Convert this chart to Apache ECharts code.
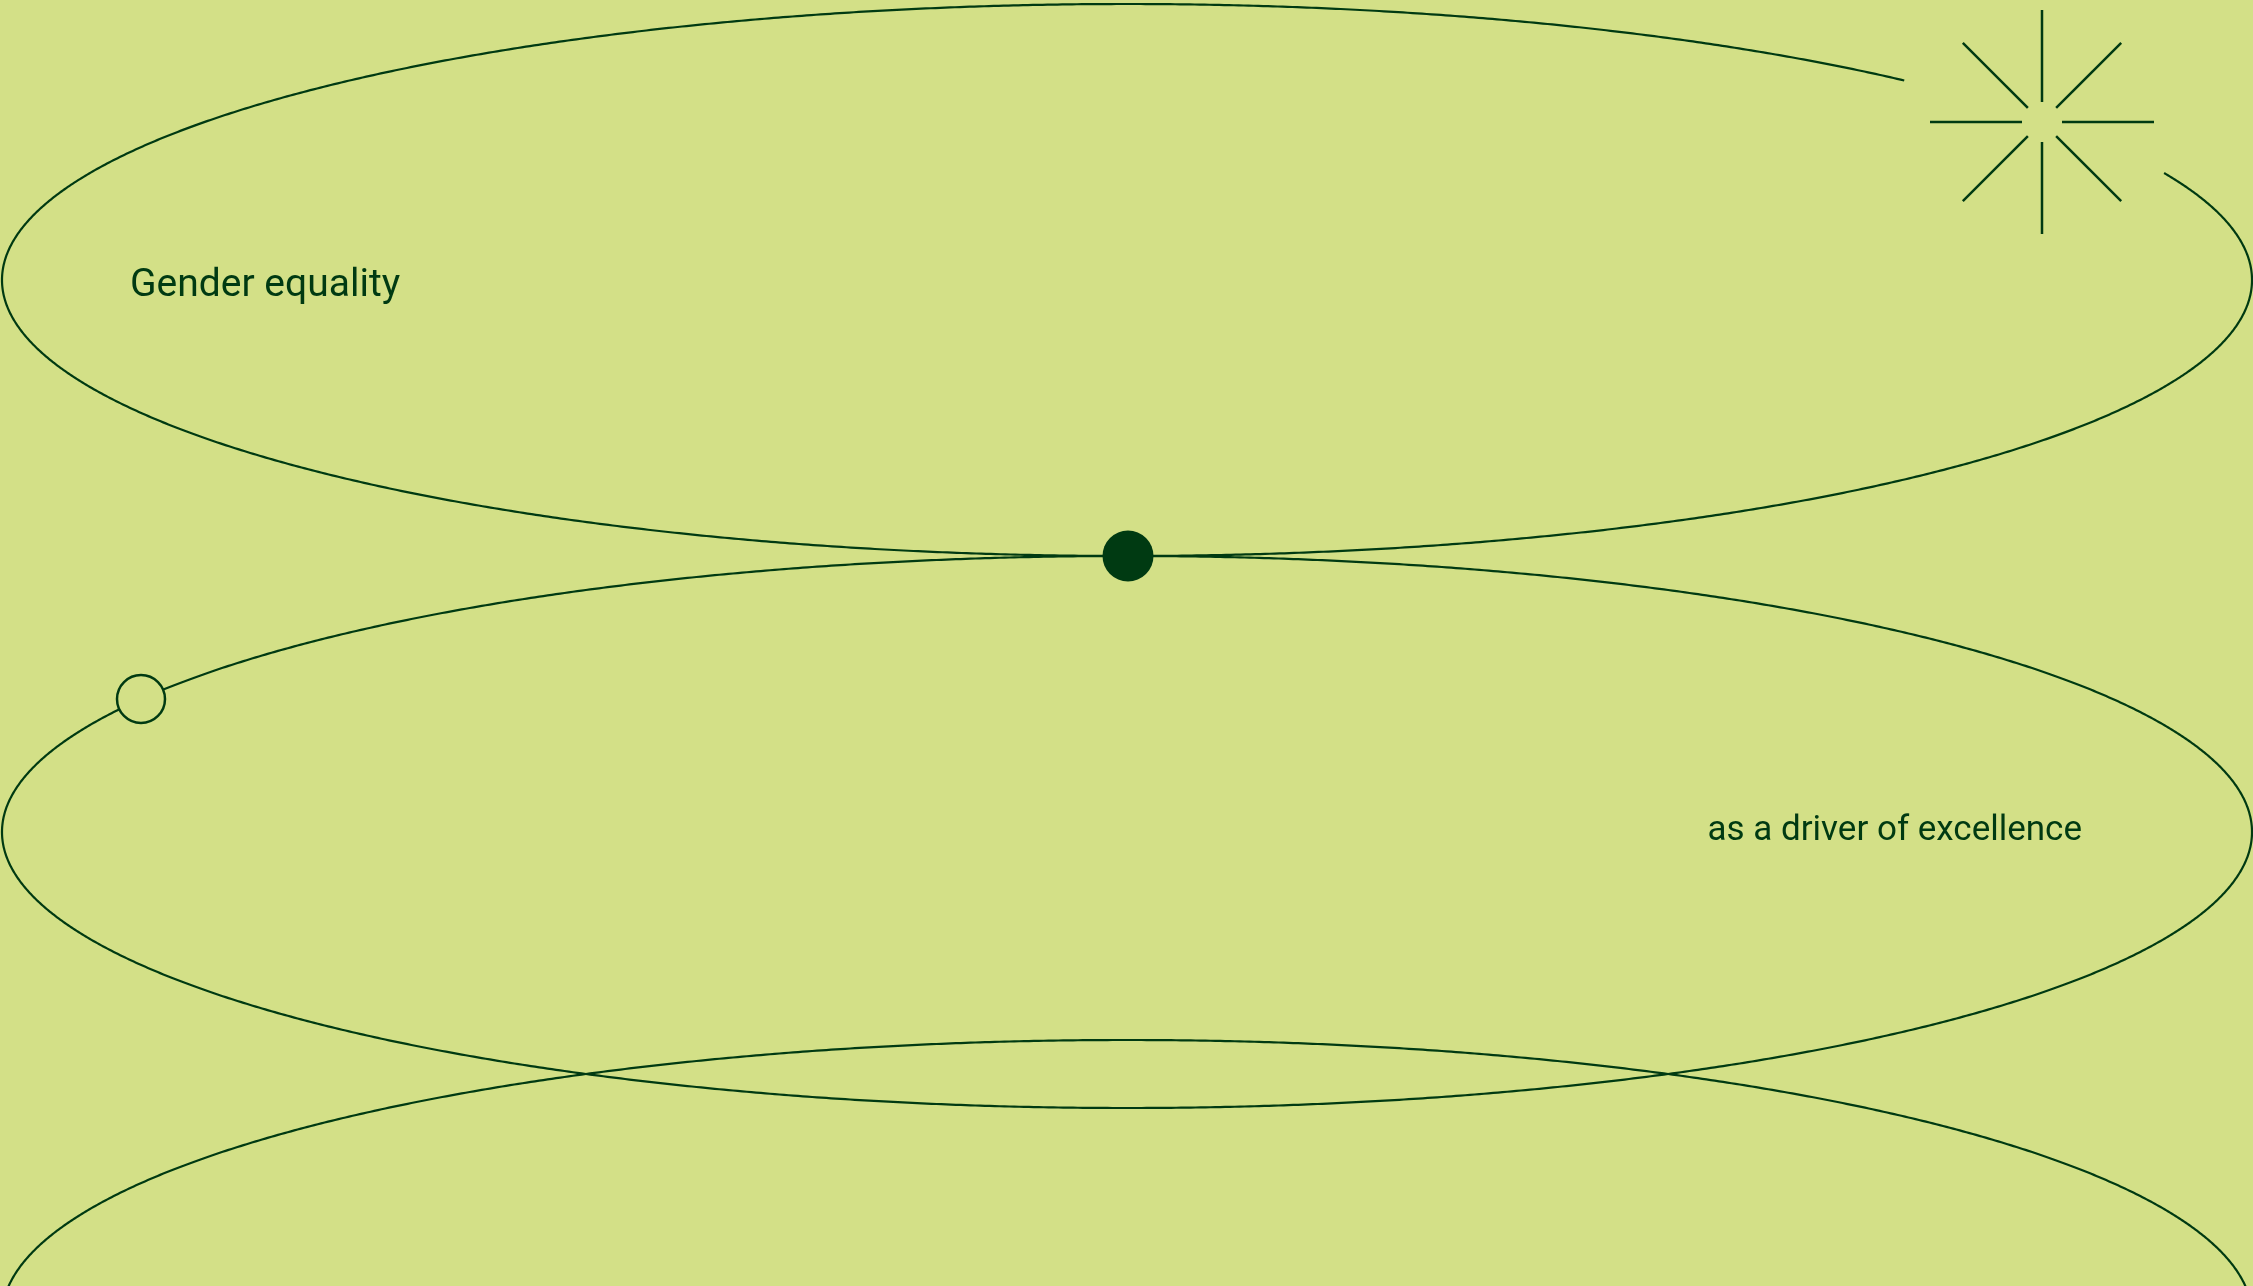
<!DOCTYPE html>
<html>
<head>
<meta charset="utf-8">
<script src="https://cdn.jsdelivr.net/npm/echarts@6/dist/echarts.min.js"></script>
<style>
html,body{margin:0;padding:0;background:#d3e087;}
#chart{width:2253px;height:1286px;}
</style>
</head>
<body>
<div id="chart"></div>
<script>
// Ellipses: [centerX, centerY, radiusX, radiusY, gapFromDeg, gapToDeg]
var ellipses = [
  [1127, 280, 1125, 276, -46.3, -22.8],
  [1127, 832, 1125, 276, 0, 0],
  [1127, 1316, 1125, 276, 0, 0]
];
// Star burst: [centerX, centerY, innerR, outerR]
var stars = [[2042, 122, 20, 112]];
// Markers on the ellipses
var filledDots = [[1128, 556]];
var openDots = [[141, 699]];
// Texts: [x, baselineY, text, align, fontSize]
var labels = [
  [130, 298, 'Gender equality', 'left', 39],
  [2082, 842, 'as a driver of excellence', 'right', 35]
];

var DARK = '#003a12';
var BG = '#d3e087';

var chart = echarts.init(document.getElementById('chart'), null, {renderer: 'canvas'});

var option = {
  backgroundColor: BG,
  animation: false,
  grid: {left: 0, right: 0, top: 0, bottom: 0},
  xAxis: {type: 'value', min: 0, max: 2253, show: false},
  yAxis: {type: 'value', min: 0, max: 1286, inverse: true, show: false},
  series: [
    {
      type: 'custom',
      clip: true,
      z: 1,
      data: ellipses,
      encode: {x: 0, y: 1},
      renderItem: function (params, api) {
        var cx = api.value(0), cy = api.value(1), rx = api.value(2), ry = api.value(3);
        var g0 = api.value(4), g1 = api.value(5);
        var start = 0, end = 360;
        if (g0 !== g1) { start = g1; end = g0 + 360; }
        var pts = [];
        for (var a = start; a <= end + 1e-6; a += 0.25) {
          var t = a * Math.PI / 180;
          pts.push(api.coord([cx + rx * Math.cos(t), cy + ry * Math.sin(t)]));
        }
        return {
          type: 'polyline',
          shape: {points: pts},
          style: {stroke: DARK, fill: null, lineWidth: 2.2}
        };
      }
    },
    {
      type: 'custom',
      z: 2,
      data: stars,
      encode: {x: 0, y: 1},
      renderItem: function (params, api) {
        var cx = api.value(0), cy = api.value(1), r0 = api.value(2), r1 = api.value(3);
        var children = [];
        for (var k = 0; k < 8; k++) {
          var t = k * Math.PI / 4;
          var p0 = api.coord([cx + r0 * Math.cos(t), cy + r0 * Math.sin(t)]);
          var p1 = api.coord([cx + r1 * Math.cos(t), cy + r1 * Math.sin(t)]);
          children.push({
            type: 'line',
            shape: {x1: p0[0], y1: p0[1], x2: p1[0], y2: p1[1]},
            style: {stroke: DARK, lineWidth: 2.5}
          });
        }
        return {type: 'group', children: children};
      }
    },
    {
      type: 'scatter',
      z: 3,
      data: filledDots,
      symbol: 'circle',
      symbolSize: 51,
      itemStyle: {color: DARK, opacity: 1},
      silent: true
    },
    {
      type: 'scatter',
      z: 3,
      data: openDots,
      symbol: 'circle',
      symbolSize: 48,
      itemStyle: {color: BG, borderColor: DARK, borderWidth: 2.5, opacity: 1},
      silent: true
    },
    {
      type: 'custom',
      z: 4,
      data: labels,
      encode: {x: 0, y: 1},
      renderItem: function (params, api) {
        var p = api.coord([api.value(0), api.value(1)]);
        var fs = api.value(4);
        return {
          type: 'text',
          x: p[0],
          y: p[1] - fs * 0.30,
          style: {
            text: labels[params.dataIndex][2],
            fill: DARK,
            font: '400 ' + fs + 'px Roboto, "Noto Sans", sans-serif',
            align: labels[params.dataIndex][3],
            verticalAlign: 'middle'
          }
        };
      }
    }
  ]
};
chart.setOption(option);
</script>
</body>
</html>
